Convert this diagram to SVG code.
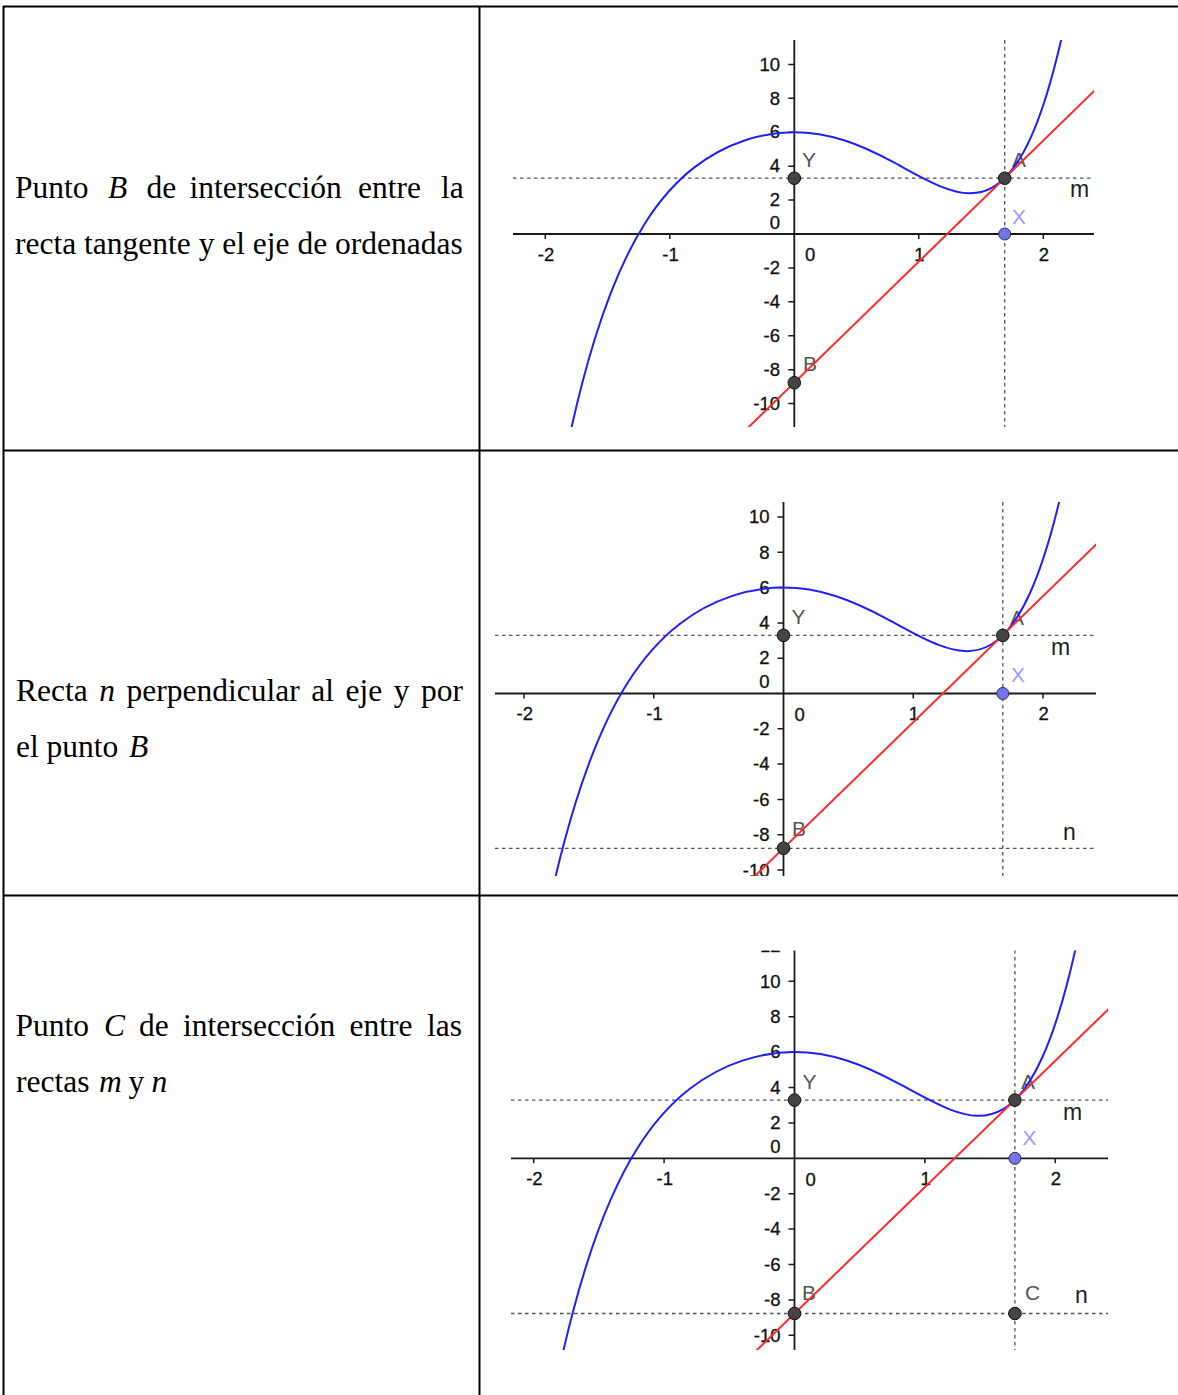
<svg xmlns="http://www.w3.org/2000/svg" width="1178" height="1395" viewBox="0 0 1178 1395">
<style>
.tl{stroke:#000;stroke-width:2;fill:none}
.tx{font-family:"Liberation Serif","Times New Roman",serif;font-size:31.5px;fill:#000}
.it{font-style:italic}
.ax{stroke:#1a1a1a;stroke-width:1.8;fill:none}
.tk{stroke:#1a1a1a;stroke-width:1.5;fill:none}
.num{font-family:"Liberation Sans",Arial,sans-serif;font-size:18.5px;fill:#111;stroke:#111;stroke-width:0.3}
.ny{text-anchor:end}
.nx{text-anchor:middle}
.dash{stroke:#555;stroke-width:1.3;stroke-dasharray:3.5 3.5;fill:none}
.fn{stroke:#1f1fff;stroke-width:2;fill:none}
.tg{stroke:#ff2a2a;stroke-width:2;fill:none}
.pt{fill:#444;stroke:#111;stroke-width:1}
.px{fill:#7373f5;stroke:#333;stroke-width:1}
.lb{font-family:"Liberation Sans",Arial,sans-serif;font-size:21px;fill:#555}
.lx{fill:#9b9bff}
.ln{font-family:"Liberation Sans",Arial,sans-serif;font-size:23px;fill:#222}
</style>
<defs>
<clipPath id="c1"><rect x="513" y="40" width="581" height="387"/></clipPath>
<clipPath id="c2"><rect x="495" y="502" width="601" height="374"/></clipPath>
<clipPath id="c3"><rect x="511" y="950.5" width="597" height="399.5"/></clipPath>
</defs>
<rect width="1178" height="1395" fill="#fff"/>

<g id="table">
<path class="tl" d="M3,6.5H1178 M3.5,6V1395 M479.5,6V1395 M3,450.5H1178 M3,895.5H1178"/>
</g>

<g id="text-row1" class="tx">
<text y="197.5"><tspan x="15">Punto</tspan><tspan x="108" class="it">B</tspan><tspan x="146.5">de</tspan><tspan x="189.5">intersección</tspan><tspan x="358">entre</tspan><tspan x="441">la</tspan></text>
<text x="15" y="253.5">recta tangente y el eje de ordenadas</text>
</g>
<g id="text-row2" class="tx">
<text y="701"><tspan x="16">Recta</tspan><tspan x="99.2" class="it">n</tspan><tspan x="126.5">perpendicular</tspan><tspan x="311.2">al</tspan><tspan x="345.5">eje</tspan><tspan x="393.7">y</tspan><tspan x="421">por</tspan></text>
<text y="757"><tspan x="16">el punto</tspan><tspan x="129" class="it">B</tspan></text>
</g>
<g id="text-row3" class="tx">
<text y="1036"><tspan x="15.5">Punto</tspan><tspan x="104" class="it">C</tspan><tspan x="139">de</tspan><tspan x="183">intersección</tspan><tspan x="349.5">entre</tspan><tspan x="427">las</tspan></text>
<text y="1091.5"><tspan x="16">rectas</tspan><tspan x="99" class="it">m</tspan><tspan x="128.5">y</tspan><tspan x="151.5" class="it">n</tspan></text>
</g>

<g id="plot1" clip-path="url(#c1)">
<path class="dash" d="M513,178.2H1094 M1004.7,40V427"/>
<path class="ax" d="M513,234H1094 M794.3,40V427"/>
<path class="tk" d="M545.3,234v5 M669.8,234v5 M918.8,234v5 M1043.3,234v5 M788.3,64.4h6 M788.3,98.3h6 M788.3,132.2h6 M788.3,166.2h6 M788.3,200.1h6 M788.3,267.9h6 M788.3,301.8h6 M788.3,335.8h6 M788.3,369.7h6 M788.3,403.6h6"/>
<g class="num ny">
<text x="780" y="70.6">10</text><text x="780" y="104.5">8</text><text x="780" y="138.4">6</text><text x="780" y="172.4">4</text><text x="780" y="206.3">2</text><text x="780" y="228.7">0</text><text x="780" y="274.1">-2</text><text x="780" y="308">-4</text><text x="780" y="342">-6</text><text x="780" y="375.9">-8</text><text x="780" y="409.8">-10</text>
</g>
<g class="num nx">
<text x="546" y="260.7">-2</text><text x="670.5" y="260.7">-1</text><text x="919.5" y="260.7">1</text><text x="1044" y="260.7">2</text>
</g>
<text class="num" x="805" y="261.2">0</text>
<text class="lb" x="802" y="167">Y</text>
<text class="lb" x="1012" y="167">A</text>
<text class="lb lx" x="1012" y="223.5">X</text>
<text class="lb" x="803" y="370.5">B</text>
<text class="ln" x="1070" y="197">m</text>
<g transform="matrix(124.5 0 0 -16.96 794.3 234)">
<path class="fn" vector-effect="non-scaling-stroke" d="M-1.84,-13.1203 C-1.76,-10.2885 -1.68,-8.0186 -1.6,-6.1365 C-1.46667,-2.9996 -1.33333,-0.92506 -1.2,0.62246 C-1.06667,2.16998 -0.93333,3.18469 -0.8,3.94074 C-0.66667,4.69679 -0.53333,5.1884 -0.4,5.51565 C-0.26667,5.8429 -0.13333,6 0,6 C0.13333,6 0.26667,5.8371 0.4,5.52435 C0.53333,5.2116 0.66667,4.74321 0.8,4.21926 C0.93333,3.69531 1.06667,3.11002 1.2,2.73754 C1.33333,2.36506 1.46667,2.19965 1.6,2.7765 C1.7,3.20914 1.8,4.06408 1.9,5.6934 C2,7.32272 2.1,9.72496 2.2,13.3829"/>
<path class="tg" vector-effect="non-scaling-stroke" d="M-0.6,-13.055 L2.6,9.799"/>
</g>
<circle class="pt" cx="794.3" cy="178.2" r="6.3"/>
<circle class="pt" cx="1004.7" cy="178.2" r="6.3"/>
<circle class="px" cx="1004.7" cy="234" r="6"/>
<circle class="pt" cx="794.3" cy="382.7" r="6.3"/>
</g>

<g id="plot2" clip-path="url(#c2)">
<path class="dash" d="M495,635.4H1096 M1002.8,502V876 M495,848.3H1096"/>
<path class="ax" d="M495,693.5H1096 M783.5,502V876"/>
<path class="tk" d="M524,693.5v5 M653.75,693.5v5 M913.25,693.5v5 M1043,693.5v5 M777.5,517h6 M777.5,552.3h6 M777.5,587.6h6 M777.5,622.9h6 M777.5,658.2h6 M777.5,728.8h6 M777.5,764.1h6 M777.5,799.4h6 M777.5,834.7h6 M777.5,870h6"/>
<g class="num ny">
<text x="769.5" y="523.2">10</text><text x="769.5" y="558.5">8</text><text x="769.5" y="593.8">6</text><text x="769.5" y="629.1">4</text><text x="769.5" y="664.4">2</text><text x="769.5" y="688.2">0</text><text x="769.5" y="735">-2</text><text x="769.5" y="770.3">-4</text><text x="769.5" y="805.6">-6</text><text x="769.5" y="840.9">-8</text><text x="769.5" y="877.2">-10</text>
</g>
<g class="num nx">
<text x="524.7" y="720.2">-2</text><text x="654.5" y="720.2">-1</text><text x="914" y="720.2">1</text><text x="1043.7" y="720.2">2</text>
</g>
<text class="num" x="794.5" y="720.7">0</text>
<text class="lb" x="791.5" y="624.4">Y</text>
<text class="lb" x="1010" y="624.5">A</text>
<text class="lb lx" x="1011" y="682">X</text>
<text class="lb" x="792" y="835.5">B</text>
<text class="ln" x="1051" y="655">m</text>
<text class="ln" x="1063" y="840">n</text>
<g transform="matrix(129.75 0 0 -17.65 783.5 693.5)">
<path class="fn" vector-effect="non-scaling-stroke" d="M-1.84,-13.1203 C-1.76,-10.2885 -1.68,-8.0186 -1.6,-6.1365 C-1.46667,-2.9996 -1.33333,-0.92506 -1.2,0.62246 C-1.06667,2.16998 -0.93333,3.18469 -0.8,3.94074 C-0.66667,4.69679 -0.53333,5.1884 -0.4,5.51565 C-0.26667,5.8429 -0.13333,6 0,6 C0.13333,6 0.26667,5.8371 0.4,5.52435 C0.53333,5.2116 0.66667,4.74321 0.8,4.21926 C0.93333,3.69531 1.06667,3.11002 1.2,2.73754 C1.33333,2.36506 1.46667,2.19965 1.6,2.7765 C1.7,3.20914 1.8,4.06408 1.9,5.6934 C2,7.32272 2.1,9.72496 2.2,13.3829"/>
<path class="tg" vector-effect="non-scaling-stroke" d="M-0.6,-13.055 L2.6,9.799"/>
</g>
<circle class="pt" cx="783.5" cy="635.4" r="6.3"/>
<circle class="pt" cx="1002.8" cy="635.4" r="6.3"/>
<circle class="px" cx="1002.8" cy="693.5" r="6"/>
<circle class="pt" cx="783.5" cy="848.3" r="6.3"/>
</g>

<g id="plot3" clip-path="url(#c3)">
<path class="dash" d="M511,1100.1H1108 M1014.9,950V1350 M511,1313.5H1108"/>
<path class="ax" d="M511,1158.3H1108 M794.5,950V1350"/>
<path class="tk" d="M533.7,1158.3v5 M664.1,1158.3v5 M924.9,1158.3v5 M1055.3,1158.3v5 M788.5,945.9h6 M788.5,981.3h6 M788.5,1016.7h6 M788.5,1052.1h6 M788.5,1087.5h6 M788.5,1122.9h6 M788.5,1193.7h6 M788.5,1229.1h6 M788.5,1264.5h6 M788.5,1299.9h6 M788.5,1335.3h6"/>
<g class="num ny">
<text x="780.5" y="952.1">12</text><text x="780.5" y="987.5">10</text><text x="780.5" y="1022.9">8</text><text x="780.5" y="1058.3">6</text><text x="780.5" y="1093.7">4</text><text x="780.5" y="1129.1">2</text><text x="780.5" y="1153">0</text><text x="780.5" y="1199.9">-2</text><text x="780.5" y="1235.3">-4</text><text x="780.5" y="1270.7">-6</text><text x="780.5" y="1306.1">-8</text><text x="780.5" y="1341.5">-10</text>
</g>
<g class="num nx">
<text x="534.4" y="1185">-2</text><text x="664.8" y="1185">-1</text><text x="925.6" y="1185">1</text><text x="1056" y="1185">2</text>
</g>
<text class="num" x="805.5" y="1185.5">0</text>
<text class="lb" x="802.5" y="1088.5">Y</text>
<text class="lb" x="1021" y="1088.5">A</text>
<text class="lb lx" x="1022.5" y="1145">X</text>
<text class="lb" x="802" y="1300">B</text>
<text class="lb" x="1025" y="1300">C</text>
<text class="ln" x="1063" y="1120">m</text>
<text class="ln" x="1075" y="1303">n</text>
<g transform="matrix(130.4 0 0 -17.7 794.5 1158.3)">
<path class="fn" vector-effect="non-scaling-stroke" d="M-1.84,-13.1203 C-1.76,-10.2885 -1.68,-8.0186 -1.6,-6.1365 C-1.46667,-2.9996 -1.33333,-0.92506 -1.2,0.62246 C-1.06667,2.16998 -0.93333,3.18469 -0.8,3.94074 C-0.66667,4.69679 -0.53333,5.1884 -0.4,5.51565 C-0.26667,5.8429 -0.13333,6 0,6 C0.13333,6 0.26667,5.8371 0.4,5.52435 C0.53333,5.2116 0.66667,4.74321 0.8,4.21926 C0.93333,3.69531 1.06667,3.11002 1.2,2.73754 C1.33333,2.36506 1.46667,2.19965 1.6,2.7765 C1.7,3.20914 1.8,4.06408 1.9,5.6934 C2,7.32272 2.1,9.72496 2.2,13.3829"/>
<path class="tg" vector-effect="non-scaling-stroke" d="M-0.6,-13.055 L2.6,9.799"/>
</g>
<circle class="pt" cx="794.5" cy="1100.1" r="6.3"/>
<circle class="pt" cx="1014.9" cy="1100.1" r="6.3"/>
<circle class="px" cx="1014.9" cy="1158.3" r="6"/>
<circle class="pt" cx="794.5" cy="1313.5" r="6.3"/>
<circle class="pt" cx="1014.9" cy="1313.5" r="6.3"/>
</g>
</svg>
